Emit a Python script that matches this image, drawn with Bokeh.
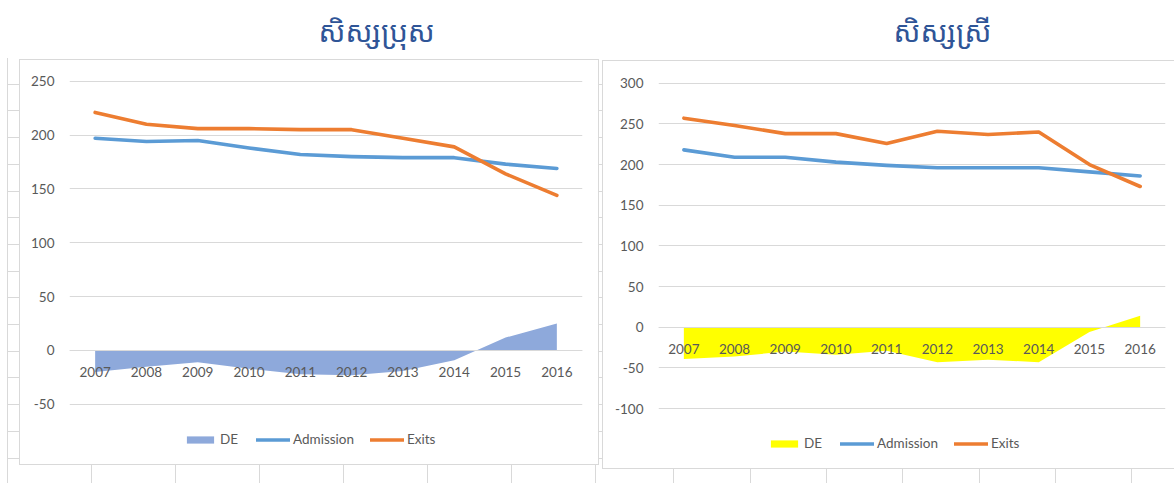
from bokeh.plotting import figure
from bokeh.models import (FactorRange, Range1d, FixedTicker, Legend, LegendItem,
                          InlineStyleSheet, Label)
from bokeh.layouts import row
from bokeh.embed import file_html
from bokeh.resources import INLINE

years = ["2007", "2008", "2009", "2010", "2011", "2012", "2013", "2014", "2015", "2016"]

male_title = "សិស្សប្រុស"
male_admission = [197, 194, 195, 188, 182, 180, 179, 179, 173, 169]
male_exits = [221, 210, 206, 206, 205, 205, 197, 189, 164, 144]
male_de = [-20, -15, -11, -17, -22, -23, -19, -9, 12, 25]
male_ticks = [-50, 0, 50, 100, 150, 200, 250]

female_title = "សិស្សស្រី"
female_admission = [218, 209, 209, 203, 199, 196, 196, 196, 191, 186]
female_exits = [257, 248, 238, 238, 226, 241, 237, 240, 200, 173]
female_de = [-39, -36, -30, -34, -29, -43, -40, -43, -6, 14]
female_ticks = [-100, -50, 0, 50, 100, 150, 200, 250, 300]

series_names = ["DE", "Admission", "Exits"]

TEXT = "#595959"
GRID = "#D9D9D9"
FONT = "Lato"

# the frame spans the full height (page y 0..470) for both charts; the ranges
# extend past the outer ticks so the gridlines land where the originals are
FRAME_BOTTOM = 470


def make_chart(title, adm, ext, de, de_color, ticks, y_lo, y_hi, width,
               mb_left, mb_right, title_x, legend_xy, box_css, cells_css):
    p = figure(width=width, height=483, x_range=FactorRange(*years),
               y_range=Range1d(y_lo, y_hi), title=None,
               output_backend="svg", toolbar_location=None,
               min_border_left=mb_left, min_border_right=mb_right,
               min_border_top=0, min_border_bottom=483 - FRAME_BOTTOM)
    p.x_range.range_padding = 0
    p.outline_line_color = None
    p.background_fill_color = "white"
    p.border_fill_color = "white"

    r_de = p.varea(x=years, y1=0, y2=de, fill_color=de_color)
    r_adm = p.line(x=years, y=adm, line_color="#5B9BD5", line_width=3.6,
                   line_cap="round", line_join="round")
    r_ext = p.line(x=years, y=ext, line_color="#ED7D31", line_width=3.6,
                   line_cap="round", line_join="round")

    p.add_layout(Label(x=title_x, y=FRAME_BOTTOM - 30, x_units="screen", y_units="screen",
                       text=title, text_font="Noto Sans Khmer, Khmer OS, Noto Sans",
                       text_font_size="29px", text_color="#2F5597",
                       text_baseline="alphabetic", text_align="left"))

    p.yaxis.ticker = FixedTicker(ticks=ticks)
    p.yaxis.major_label_overrides = {t: str(t) for t in ticks}
    p.yaxis.axis_line_color = None
    p.yaxis.major_tick_line_color = None
    p.yaxis.minor_tick_line_color = None
    p.yaxis.major_tick_in = 0
    p.yaxis.major_tick_out = 0
    p.yaxis.major_label_standoff = 15
    p.yaxis.major_label_text_font = FONT
    p.yaxis.major_label_text_font_size = "13.5px"
    p.yaxis.major_label_text_color = TEXT

    p.xaxis.fixed_location = 0
    p.xaxis.axis_line_color = GRID
    p.xaxis.major_tick_line_color = None
    p.xaxis.minor_tick_line_color = None
    p.xaxis.major_tick_in = 0
    p.xaxis.major_tick_out = 0
    p.xaxis.major_label_standoff = 17
    p.xaxis.major_label_text_font = FONT
    p.xaxis.major_label_text_font_size = "13.5px"
    p.xaxis.major_label_text_color = TEXT

    p.xgrid.grid_line_color = None
    p.ygrid.ticker = FixedTicker(ticks=ticks)
    p.ygrid.grid_line_color = GRID

    legend = Legend(items=[LegendItem(label=series_names[0], renderers=[r_de]),
                           LegendItem(label=series_names[1], renderers=[r_adm]),
                           LegendItem(label=series_names[2], renderers=[r_ext])],
                    orientation="horizontal", location=legend_xy,
                    glyph_width=34, glyph_height=9, label_standoff=3,
                    spacing=16, padding=0, margin=0,
                    label_text_font=FONT, label_text_font_size="13.5px",
                    label_text_color=TEXT, label_height=16,
                    border_line_color=None, background_fill_alpha=0)
    p.add_layout(legend, "center")

    css = (":host::after{content:'';position:absolute;box-sizing:border-box;"
           "pointer-events:none;z-index:10;border:1px solid #D9D9D9;" + box_css + "}"
           ":host::before{content:'';position:absolute;left:0;top:0;width:100%;"
           "height:100%;pointer-events:none;z-index:9;" + cells_css + "}")
    p.stylesheets = [InlineStyleSheet(css=css)]
    return p


left_cells = ("background:"
              "linear-gradient(#D9D9D9,#D9D9D9) 7px 58px/1px 425px no-repeat,"
              "repeating-linear-gradient(to bottom,transparent 0 25.7px,#D9D9D9 25.7px 26.7px) 7px 58px/12px 425px no-repeat,"
              "repeating-linear-gradient(to right,#D9D9D9 0 1px,transparent 1px 84px) 7px 465px/591px 18px no-repeat;")
right_cells = ("background:"
               "repeating-linear-gradient(to bottom,transparent 0 25.7px,#D9D9D9 25.7px 26.7px) 0px 58px/4px 425px no-repeat,"
               "repeating-linear-gradient(to right,transparent 0 75.3px,#D9D9D9 75.3px 76.3px) 0px 469px/576px 14px no-repeat;")

p1 = make_chart(male_title, male_admission, male_exits, male_de, "#8EA9DB",
                male_ticks, -111.4, 324.9, 598, 69, 16, 249, (114, 23),
                "left:19px;top:59px;width:580px;height:406px;", left_cells)
p2 = make_chart(female_title, female_admission, female_exits, female_de, "#FFFF00",
                female_ticks, -176.2, 401.7, 576, 60, 9, 235, (109, 19),
                "left:4px;top:60px;width:600px;height:409px;", right_cells)

layout = row(p1, p2)
layout.spacing = 0
open("out.html", "w").write(file_html(layout, INLINE))
